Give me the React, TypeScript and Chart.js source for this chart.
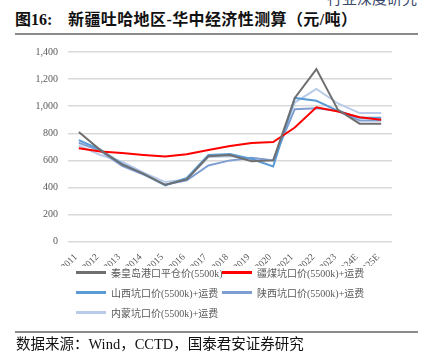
import React, { useEffect, useRef } from "react";
import { Chart, registerables } from "chart.js";

Chart.register(...registerables);

const years = ["2011", "2012", "2013", "2014", "2015", "2016", "2017", "2018", "2019", "2020", "2021", "2022", "2023", "2024E", "2025E"];
const qinhuangdao = [810, 676, 570, 500, 420, 460, 630, 640, 594, 600, 1061, 1274, 973, 871, 871];
const xinjiang = [690, 665, 655, 640, 628, 645, 676, 707, 729, 736, 843, 992, 961, 918, 900];
const shanxi = [750, 680, 575, 500, 415, 470, 640, 648, 610, 555, 1061, 1040, 966, 914, 914];
const shaanxi = [730, 670, 560, 495, 420, 453, 562, 600, 620, 600, 978, 985, 966, 895, 895];
const neimeng = [710, 640, 590, 510, 440, 460, 625, 630, 615, 600, 1027, 1127, 1020, 949, 949];
const yTicks = [0, 200, 400, 600, 800, 1000, 1200, 1400];

const seriesNames = [
  "秦皇岛港口平仓价(5500k)",
  "疆煤坑口价(5500k)+运费",
  "山西坑口价(5500k)+运费",
  "陕西坑口价(5500k)+运费",
  "内蒙坑口价(5500k)+运费",
];
const seriesColors = ["#6f6f6f", "#ff0000", "#5b9bd5", "#7f9fd3", "#b9cbe8"];
const seriesData = [qinhuangdao, xinjiang, shanxi, shaanxi, neimeng];

const SERIF = '"Liberation Serif", "Noto Sans CJK SC", serif';

// draws the category labels of the x scale rotated 45 degrees
const slantedXLabels = {
  id: "slantedXLabels",
  afterDraw(chart: any) {
    const scale = chart.scales.x;
    const ctx = chart.ctx;
    const labels = chart.data.labels as string[];
    ctx.save();
    ctx.font = `9.5px ${SERIF}`;
    ctx.fillStyle = "#595959";
    ctx.textAlign = "right";
    ctx.textBaseline = "middle";
    labels.forEach((lab, i) => {
      const x = scale.getPixelForTick(i) - 3;
      const y = scale.top + 14;
      ctx.save();
      ctx.translate(x, y);
      ctx.rotate(-Math.PI / 4);
      ctx.fillText(lab, 0, 0);
      ctx.restore();
    });
    ctx.restore();
  },
};

export default function App() {
  const ref = useRef<HTMLCanvasElement | null>(null);

  useEffect(() => {
    if (!ref.current) return;
    const chart = new Chart(ref.current, {
      type: "line",
      data: {
        labels: years,
        datasets: seriesNames.map((n, i) => ({
          label: n,
          data: seriesData[i],
          borderColor: seriesColors[i],
          backgroundColor: seriesColors[i],
          borderWidth: 2,
          pointRadius: 0,
          tension: 0,
          fill: false,
        })),
      },
      options: {
        responsive: false,
        animation: false,
        devicePixelRatio: 1,
        layout: { padding: { top: 9, right: 36, left: 0, bottom: 0 } },
        plugins: { legend: { display: false }, tooltip: { enabled: false } },
        scales: {
          x: {
            offset: true,
            grid: { display: false },
            border: { display: false },
            ticks: { display: false, autoSkip: false },
            afterFit: (s: any) => {
              s.height = 24.3;
            },
          },
          y: {
            min: 0,
            max: 1400,
            afterBuildTicks: (s: any) => {
              s.ticks = yTicks.map((v) => ({ value: v }));
            },
            grid: { color: "#d9d9d9", lineWidth: 1.6, drawTicks: false },
            border: { display: false },
            ticks: {
              padding: 10,
              color: "#595959",
              font: { family: SERIF, size: 10 },
              callback: (v: any) => Number(v).toLocaleString("en-US"),
            },
            afterFit: (s: any) => {
              s.width = 68;
            },
          },
        },
      },
      plugins: [slantedXLabels],
    });
    return () => chart.destroy();
  }, []);

  const legendRows = [
    [0, 1],
    [2, 3],
    [4],
  ];

  return (
    <div
      style={{
        position: "fixed",
        left: 0,
        top: 0,
        width: 428,
        height: 353,
        background: "#fff",
        overflow: "hidden",
        fontFamily: SERIF,
      }}
    >
      <div
        style={{
          position: "absolute",
          right: 11,
          top: -9,
          fontSize: 15,
          lineHeight: "16px",
          color: "#3a4a6b",
          whiteSpace: "nowrap",
        }}
      >
        行业深度研究
      </div>
      <div
        style={{
          position: "absolute",
          left: 15,
          top: 11,
          fontSize: 16,
          lineHeight: "18px",
          fontWeight: "bold",
          color: "#111",
          whiteSpace: "nowrap",
        }}
      >
        图16:
      </div>
      <div
        style={{
          position: "absolute",
          left: 68,
          top: 11,
          fontSize: 16,
          lineHeight: "18px",
          fontWeight: "bold",
          letterSpacing: 0.4,
          color: "#111",
          whiteSpace: "nowrap",
        }}
      >
        新疆吐哈地区-华中经济性测算（元/吨）
      </div>
      <div style={{ position: "absolute", left: 15, width: 403, top: 33, height: 2, background: "#8a8a8a" }} />
      <canvas
        ref={ref}
        width={428}
        height={230}
        style={{ position: "absolute", left: 0, top: 36, width: 428, height: 230 }}
      />
      {legendRows.map((row, ri) =>
        row.map((idx, ci) => (
          <div
            key={idx}
            style={{
              position: "absolute",
              left: ci === 0 ? 76 : 222,
              top: 272.3 + ri * 20 - 8,
              height: 16,
              display: "flex",
              alignItems: "center",
              whiteSpace: "nowrap",
            }}
          >
            <span
              style={{
                display: "inline-block",
                width: 30,
                height: 3,
                background: seriesColors[idx],
                marginRight: 5,
              }}
            />
            <span style={{ fontSize: 10, color: "#595959" }}>{seriesNames[idx]}</span>
          </div>
        ))
      )}
      <div style={{ position: "absolute", left: 15, width: 403, top: 331, height: 2, background: "#8a8a8a" }} />
      <div
        style={{
          position: "absolute",
          left: 16,
          top: 336,
          fontSize: 14.5,
          lineHeight: "16px",
          color: "#111",
          whiteSpace: "nowrap",
        }}
      >
        数据来源：Wind，CCTD，国泰君安证券研究
      </div>
    </div>
  );
}
